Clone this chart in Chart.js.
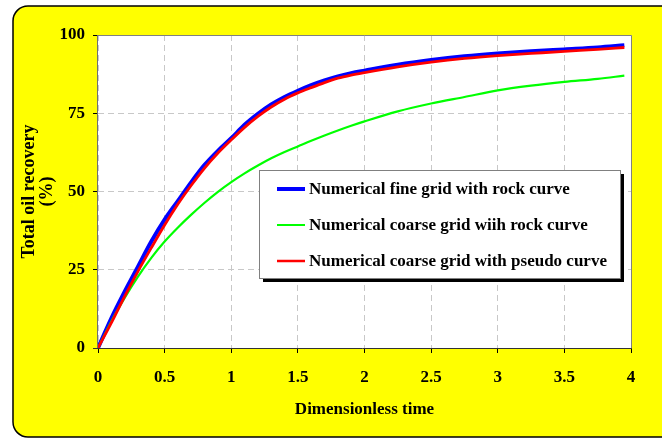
<!DOCTYPE html>
<html>
<head>
<meta charset="utf-8">
<script src="https://cdn.jsdelivr.net/npm/chart.js@4.4.1/dist/chart.umd.min.js"></script>
<style>
html, body { margin: 0; padding: 0; background: #fff; }
#wrap { width: 662px; height: 438px; }
</style>
</head>
<body>
<div id="wrap"><canvas id="chart" width="662" height="438"></canvas></div>
<script>
// values
const timeValues = [0, 0.1, 0.2, 0.3, 0.4, 0.5, 0.6, 0.7, 0.8, 0.9, 1.0,
    1.1, 1.2, 1.3, 1.4, 1.5, 1.6, 1.7, 1.8, 1.9, 2.0,
    2.25, 2.5, 2.75, 3.0, 3.25, 3.5, 3.75, 3.95];
const fineRock = [0, 9.5, 18, 26, 34, 41, 47, 53, 58.5, 63, 67,
    71.3, 74.8, 77.8, 80.2, 82.2, 84, 85.5, 86.8, 87.8, 88.6,
    90.5, 92, 93.2, 94.1, 94.8, 95.4, 96, 96.7];
const coarseRock = [0, 8.5, 16, 22.8, 28.8, 34, 38.5, 42.6, 46.4, 49.9, 53,
    55.8, 58.3, 60.6, 62.6, 64.4, 66.2, 67.9, 69.5, 71, 72.4,
    75.6, 78.1, 80.2, 82.3, 83.8, 85, 86, 87];
const coarsePseudo = [0, 8, 16.5, 24.5, 32, 39.3, 46, 52, 57.5, 62.3, 66.5,
    70.5, 74, 77, 79.5, 81.5, 83.2, 84.8, 86.2, 87.2, 88,
    89.8, 91.3, 92.5, 93.4, 94.1, 94.8, 95.4, 96];

const seriesNames = [
    'Numerical fine grid with rock curve',
    'Numerical coarse grid wiih rock curve',
    'Numerical coarse grid with pseudo curve'
];
const xTickValues = [0, 0.5, 1, 1.5, 2, 2.5, 3, 3.5, 4];
const yTickValues = [0, 25, 50, 75, 100];

const serif = "'Times New Roman', 'Liberation Serif', serif";

function toPoints(values) {
    return timeValues.map((t, i) => ({ x: t, y: values[i] }));
}

// yellow rounded panel behind everything
const panelBackground = {
    id: 'panelBackground',
    beforeDraw(chart) {
        const ctx = chart.ctx;
        const a = chart.chartArea;
        ctx.save();
        ctx.beginPath();
        ctx.roundRect(13, 6, 680, 431, 15);
        ctx.fillStyle = '#ffff00';
        ctx.fill();
        ctx.lineWidth = 1.5;
        ctx.strokeStyle = '#000';
        ctx.stroke();
        ctx.fillStyle = '#fff';
        ctx.fillRect(a.left, a.top, a.right - a.left, a.bottom - a.top);
        ctx.restore();
    },
    beforeDatasetsDraw(chart) {
        const ctx = chart.ctx;
        const a = chart.chartArea;
        ctx.save();
        ctx.setLineDash([]);
        ctx.strokeStyle = '#808080';
        ctx.lineWidth = 1;
        ctx.beginPath();
        ctx.moveTo(a.left, a.top + 0.5);
        ctx.lineTo(a.right + 0.5, a.top + 0.5);
        ctx.lineTo(a.right + 0.5, a.bottom);
        ctx.stroke();
        ctx.strokeStyle = '#707070';
        ctx.beginPath();
        ctx.moveTo(a.left - 0.5, a.top);
        ctx.lineTo(a.left - 0.5, a.bottom);
        ctx.stroke();
        ctx.strokeStyle = '#333';
        ctx.beginPath();
        ctx.moveTo(a.left - 5, a.bottom + 0.5);
        ctx.lineTo(a.right + 1, a.bottom + 0.5);
        ctx.stroke();
        ctx.restore();
    }
};

// boxed legend with drop shadow, inside the plot
const boxLegend = {
    id: 'boxLegend',
    afterDraw(chart) {
        const ctx = chart.ctx;
        const x = 259, y = 170, w = 361, h = 108;
        ctx.save();
        ctx.fillStyle = '#000';
        ctx.fillRect(x + 4, y + 4, w, h);
        ctx.fillStyle = '#fff';
        ctx.fillRect(x, y, w, h);
        ctx.strokeStyle = '#808080';
        ctx.lineWidth = 1;
        ctx.strokeRect(x + 0.5, y + 0.5, w, h);
        ctx.font = 'bold 17px ' + serif;
        ctx.textBaseline = 'middle';
        ctx.textAlign = 'left';
        chart.data.datasets.forEach((ds, i) => {
            const rowY = y + 19 + i * 36;
            ctx.strokeStyle = ds.borderColor;
            ctx.lineWidth = ds.legendWidth;
            ctx.beginPath();
            ctx.moveTo(x + 18, rowY);
            ctx.lineTo(x + 46, rowY);
            ctx.stroke();
            ctx.fillStyle = '#000';
            ctx.fillText(ds.label, x + 50, rowY + 1);
        });
        ctx.restore();
    }
};

const gridStyle = {
    color: '#c8c8c8',
    tickColor: '#000',
    tickBorderDash: [],
    tickLength: 5
};

new Chart(document.getElementById('chart').getContext('2d'), {
    type: 'line',
    data: {
        datasets: [
            {
                label: seriesNames[0],
                data: toPoints(fineRock),
                borderColor: '#0000ff',
                borderWidth: 4,
                legendWidth: 4,
                order: 2
            },
            {
                label: seriesNames[1],
                data: toPoints(coarseRock),
                borderColor: '#00ff00',
                borderWidth: 2.2,
                legendWidth: 2,
                order: 1
            },
            {
                label: seriesNames[2],
                data: toPoints(coarsePseudo),
                borderColor: '#ff0000',
                borderWidth: 2.8,
                legendWidth: 2.5,
                order: 0
            }
        ]
    },
    options: {
        responsive: false,
        animation: false,
        events: [],
        layout: { padding: { left: 0, right: 31, top: 35, bottom: 0 } },
        elements: {
            point: { radius: 0 },
            line: { cubicInterpolationMode: 'monotone', fill: false }
        },
        plugins: {
            legend: { display: false },
            tooltip: { enabled: false }
        },
        scales: {
            x: {
                type: 'linear',
                min: 0,
                max: 4,
                afterBuildTicks: s => { s.ticks = xTickValues.map(v => ({ value: v })); },
                afterFit: s => { s.height = 90; },
                ticks: {
                    color: '#000',
                    padding: 14,
                    maxRotation: 0,
                    font: { family: serif, size: 17, weight: 'bold' },
                    callback: v => String(v)
                },
                grid: gridStyle,
                border: { display: false, dash: [6, 4] },
                title: {
                    display: true,
                    text: 'Dimensionless time',
                    color: '#000',
                    padding: { top: 0, bottom: 19 },
                    font: { family: serif, size: 17, weight: 'bold', lineHeight: '18px' }
                }
            },
            y: {
                min: 0,
                max: 100,
                afterBuildTicks: s => { s.ticks = yTickValues.map(v => ({ value: v })); },
                afterFit: s => { s.width = 98; },
                ticks: {
                    color: '#000',
                    padding: 8,
                    font: { family: serif, size: 17, weight: 'bold' }
                },
                grid: gridStyle,
                border: { display: false, dash: [6, 4] },
                title: {
                    display: true,
                    text: ['Total oil recovery', '(%)'],
                    color: '#000',
                    padding: { top: 20, bottom: 0 },
                    font: { family: serif, size: 18, weight: 'bold', lineHeight: '18px' }
                }
            }
        }
    },
    plugins: [panelBackground, boxLegend]
});
</script>
</body>
</html>
